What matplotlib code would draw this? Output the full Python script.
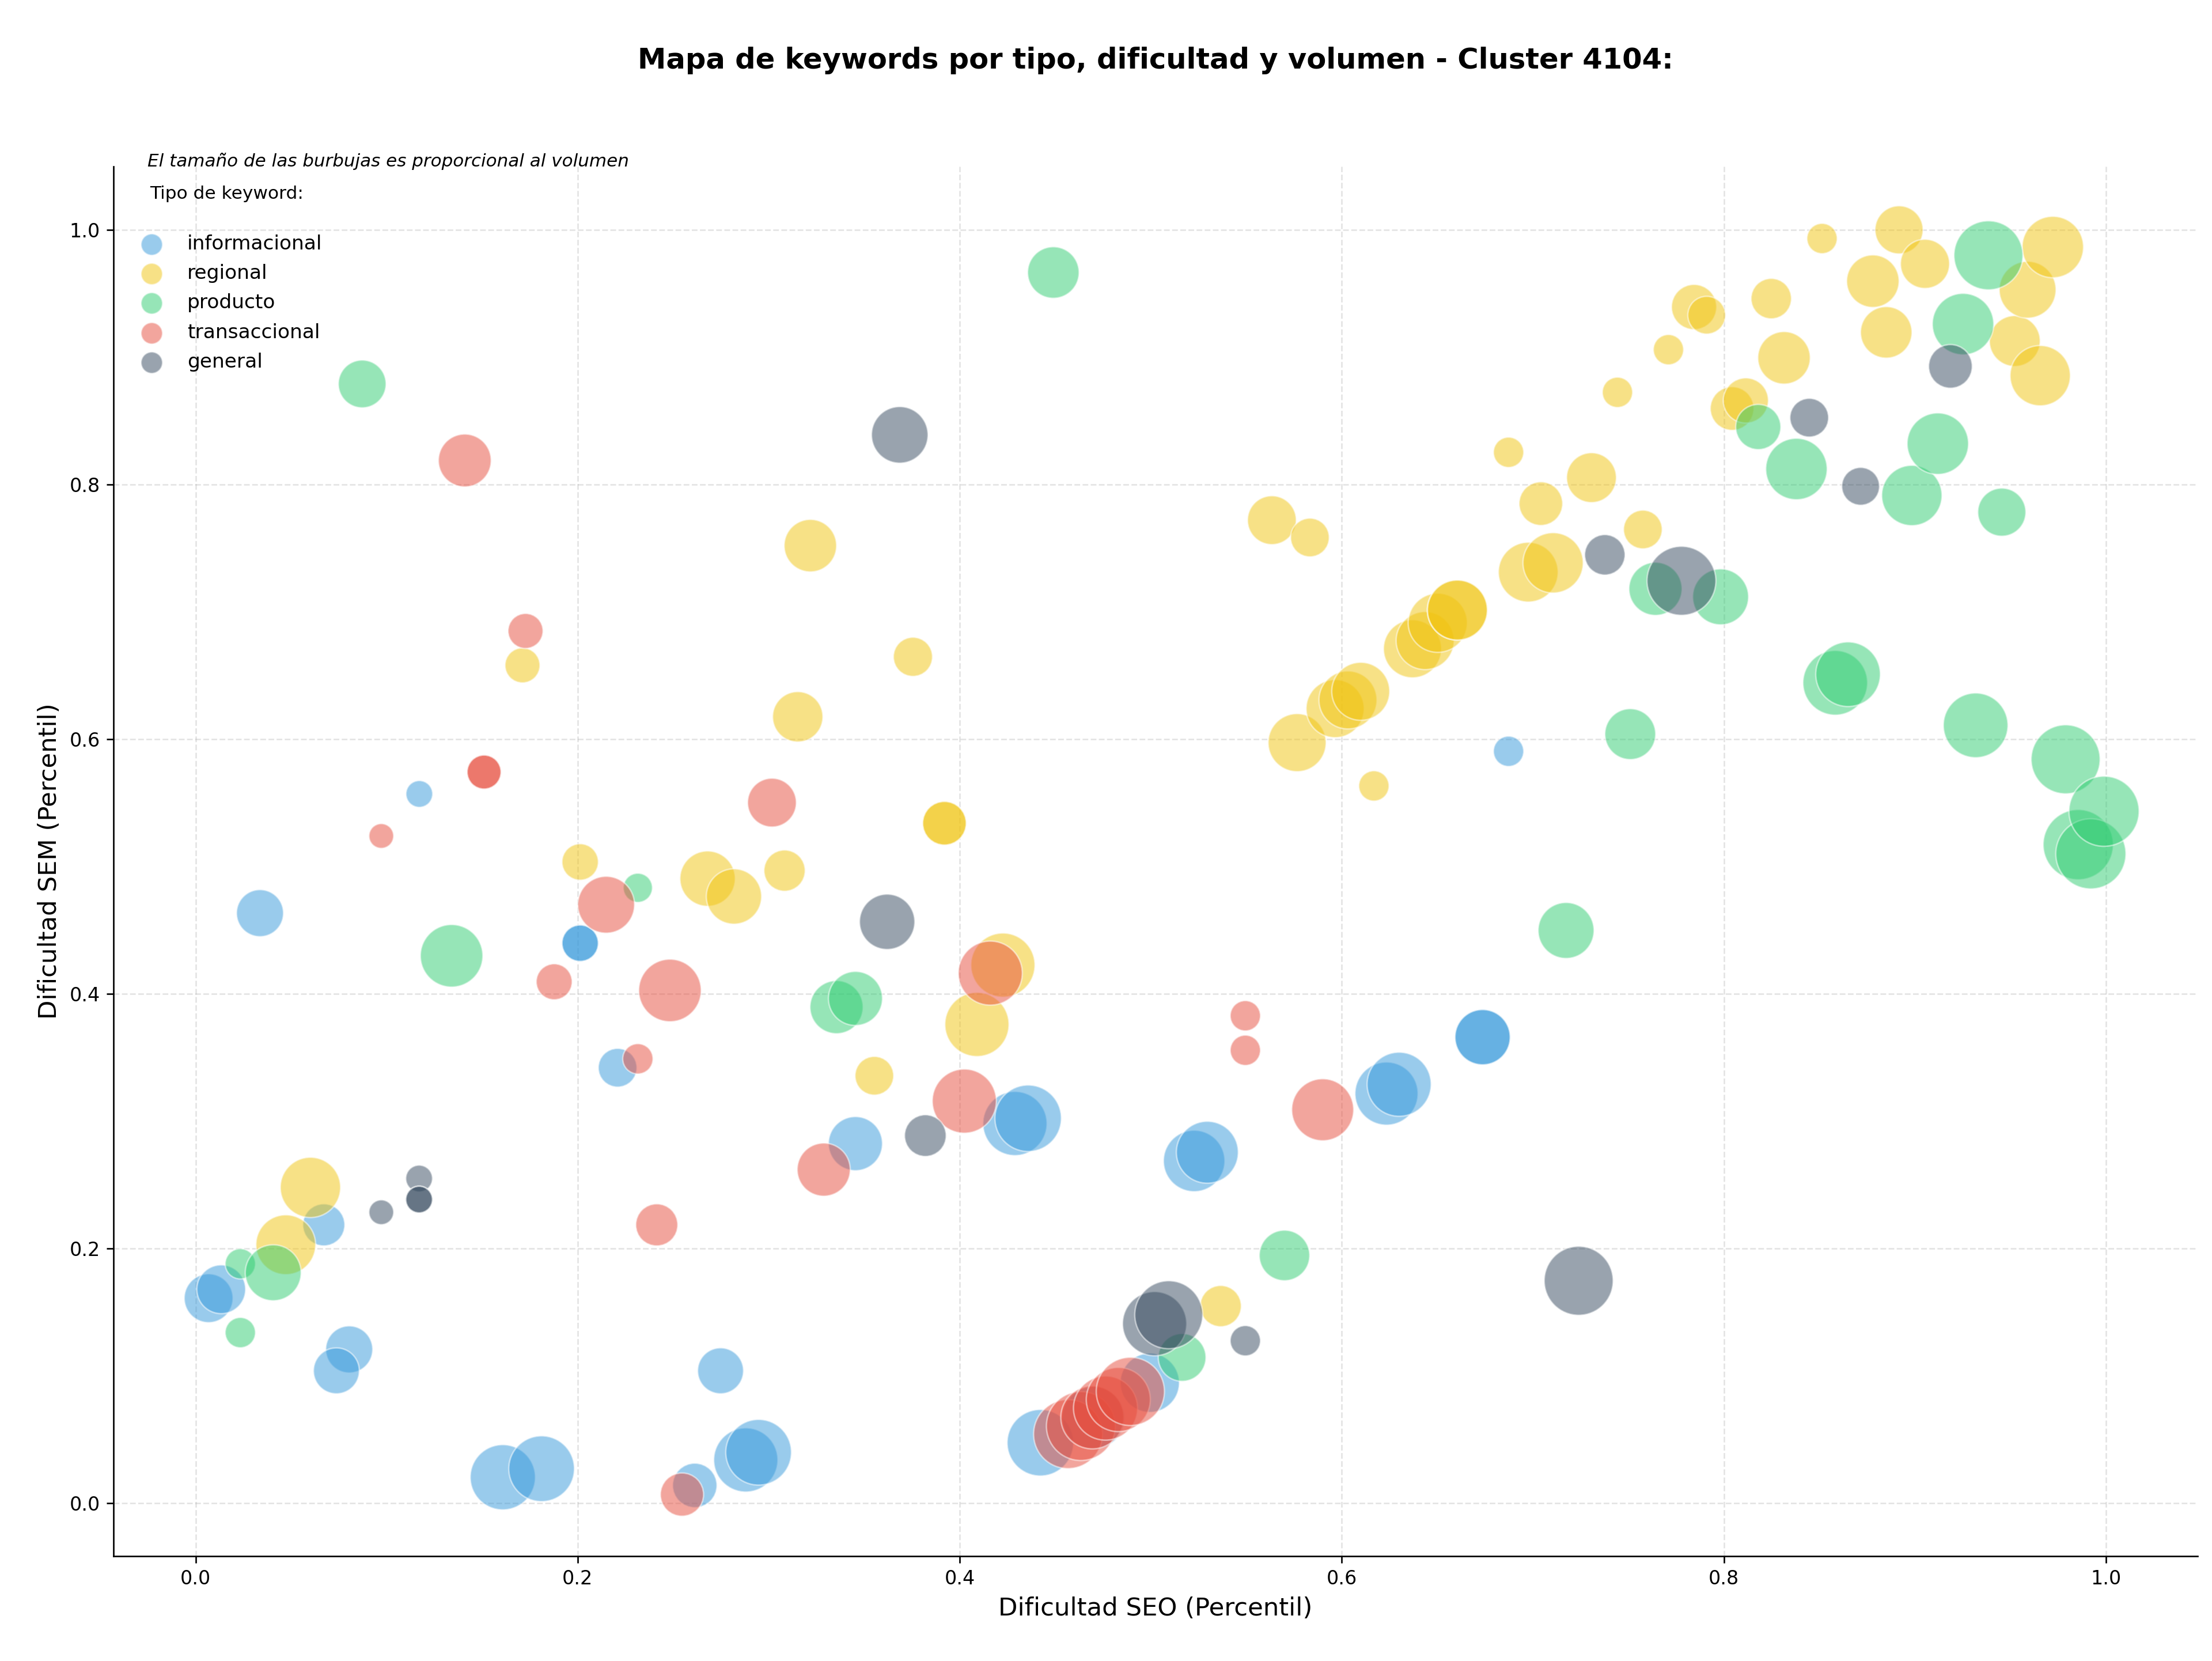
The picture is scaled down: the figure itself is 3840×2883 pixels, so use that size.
import matplotlib
matplotlib.use("Agg")
import matplotlib.pyplot as plt

# Datos del cluster 4104 (dificultad SEO, dificultad SEM, volumen)
tipos = ["informacional", "regional", "producto", "transaccional", "general"]
colores = {
    "informacional": "#3498db",
    "regional": "#f1c40f",
    "producto": "#2ecc71",
    "transaccional": "#e74c3c",
    "general": "#34495e",
}

info_seo = [0.0068, 0.0134, 0.0671, 0.0804, 0.0737, 0.1608, 0.1811, 0.2748, 0.2613, 0.2880,
            0.2947, 0.3454, 0.4289, 0.4358, 0.5227, 0.5296, 0.4422, 0.4700, 0.4995, 0.6234,
            0.6300, 0.6737, 0.6737, 0.6873, 0.1171, 0.0337, 0.2013, 0.2013, 0.2209]
info_sem = [0.161, 0.168, 0.2186, 0.1208, 0.104, 0.0204, 0.0271, 0.104, 0.014, 0.034,
            0.040, 0.2824, 0.2982, 0.3023, 0.2688, 0.2756, 0.0475, 0.067, 0.0946, 0.3217,
            0.329, 0.366, 0.366, 0.5905, 0.557, 0.4634, 0.4398, 0.4398, 0.342]
info_vol = [700, 700, 520, 650, 620, 1250, 1270, 620, 580, 1210,
            1270, 860, 1210, 1300, 1110, 1130, 1300, 1150, 1030, 1170,
            1210, 900, 900, 270, 210, 650, 390, 390, 440]

reg_seo = [0.0472, 0.0601, 0.1711, 0.2013, 0.2680, 0.2818, 0.3083, 0.3152, 0.3218, 0.3755,
           0.3920, 0.3920, 0.3553, 0.4226, 0.4090, 0.5366, 0.5634, 0.5833, 0.5766, 0.6168,
           0.5965, 0.6032, 0.6099, 0.6370, 0.6436, 0.6502, 0.6605, 0.6605, 0.6976, 0.7106,
           0.6873, 0.7042, 0.7307, 0.7576, 0.7443, 0.7710, 0.7844, 0.7910, 0.8043, 0.8115,
           0.8248, 0.8315, 0.8514, 0.8780, 0.8850, 0.8917, 0.9053, 0.9523, 0.9590, 0.9656,
           0.9722]
reg_sem = [0.203, 0.248, 0.658, 0.5036, 0.4905, 0.4765, 0.4968, 0.6176, 0.752, 0.6647,
           0.534, 0.534, 0.3357, 0.4226, 0.376, 0.1548, 0.772, 0.7584, 0.5973, 0.5633,
           0.624, 0.6308, 0.6376, 0.671, 0.6774, 0.6914, 0.7014, 0.7014, 0.7312, 0.7385,
           0.8253, 0.785, 0.8054, 0.7647, 0.8724, 0.9059, 0.9394, 0.933, 0.8597, 0.866,
           0.946, 0.8995, 0.9932, 0.9597, 0.9195, 1.0, 0.9733, 0.9127, 0.953, 0.8855,
           0.9865]
reg_vol = [1050, 1070, 360, 390, 900, 900, 500, 745, 810, 450,
           560, 560, 440, 1210, 1210, 500, 700, 440, 990, 270,
           990, 990, 990, 990, 990, 1030, 1060, 1060, 1050, 1070,
           270, 560, 730, 440, 270, 270, 600, 420, 560, 600,
           480, 810, 270, 810, 780, 680, 710, 760, 950, 1070,
           1110]

prod_seo = [0.0234, 0.0234, 0.0406, 0.0872, 0.1340, 0.2315, 0.3355, 0.3454, 0.4490, 0.5164,
            0.5700, 0.7174, 0.7510, 0.7642, 0.7983, 0.8180, 0.8380, 0.8583, 0.8650, 0.8984,
            0.9120, 0.9252, 0.9318, 0.9385, 0.9455, 0.9789, 0.9855, 0.9921, 0.9990]
prod_sem = [0.188, 0.134, 0.181, 0.879, 0.4299, 0.4833, 0.3896, 0.3964, 0.9665, 0.1145,
            0.1946, 0.4498, 0.604, 0.7181, 0.7118, 0.8452, 0.8122, 0.6443, 0.651, 0.7914,
            0.8321, 0.926, 0.6109, 0.980, 0.7783, 0.5842, 0.5172, 0.510, 0.5434]
prod_vol = [270, 270, 920, 670, 1150, 250, 830, 860, 780, 670,
            750, 920, 760, 830, 920, 600, 1110, 1230, 1230, 1070,
            1110, 1110, 1230, 1400, 680, 1400, 1450, 1450, 1450]

trans_seo = [0.0972, 0.1409, 0.1510, 0.1510, 0.1727, 0.1877, 0.2149, 0.2315, 0.2414, 0.2483,
             0.2546, 0.3017, 0.3288, 0.4024, 0.4160, 0.4567, 0.4634, 0.4694, 0.4763, 0.4830,
             0.4893, 0.5495, 0.5495, 0.5900]
trans_sem = [0.524, 0.8189, 0.5742, 0.5742, 0.685, 0.4095, 0.470, 0.349, 0.2186, 0.4027,
             0.0068, 0.5502, 0.262, 0.3158, 0.4163, 0.0543, 0.0606, 0.0674, 0.0747, 0.0814,
             0.0878, 0.3828, 0.3557, 0.309]
trans_vol = [180, 820, 340, 340, 360, 380, 950, 270, 520, 1150,
             550, 700, 830, 1210, 1210, 1400, 1400, 1170, 1210, 1210,
             1370, 270, 270, 1130]

gen_seo = [0.0972, 0.1170, 0.1170, 0.1170, 0.3620, 0.3686, 0.3820, 0.5020, 0.5094, 0.5495,
           0.7240, 0.7377, 0.7778, 0.8447, 0.8716, 0.9186]
gen_sem = [0.2285, 0.255, 0.2385, 0.2385, 0.4566, 0.839, 0.2887, 0.141, 0.148, 0.1276,
           0.1747, 0.7448, 0.7244, 0.8525, 0.7986, 0.8928]
gen_vol = [180, 210, 210, 210, 900, 940, 510, 1210, 1360, 270,
           1400, 480, 1400, 440, 420, 560]

datos = {
    "informacional": (info_seo, info_sem, info_vol),
    "regional": (reg_seo, reg_sem, reg_vol),
    "producto": (prod_seo, prod_sem, prod_vol),
    "transaccional": (trans_seo, trans_sem, trans_vol),
    "general": (gen_seo, gen_sem, gen_vol),
}

fig = plt.figure(figsize=(16, 12.0125), dpi=240)
ax = fig.add_subplot(111)
fig.subplots_adjust(left=0.0513, right=0.9935, bottom=0.0631, top=0.8998)

escala = 0.92  # volumen -> area del marcador
for tipo in tipos:
    seo, sem, vol = datos[tipo]
    ax.scatter(seo, sem, s=[v * escala for v in vol], c=colores[tipo], alpha=0.5,
               edgecolors="white", linewidths=0.8, zorder=3)

ax.set_xlim(-0.043, 1.048)
ax.set_ylim(-0.0416, 1.0498)
ax.grid(True, linestyle="--", alpha=0.35)
ax.set_axisbelow(True)
ax.spines["top"].set_visible(False)
ax.spines["right"].set_visible(False)

ax.set_xlabel("Dificultad SEO (Percentil)", fontsize=13)
ax.set_ylabel("Dificultad SEM (Percentil)", fontsize=13)
ax.set_title("Mapa de keywords por tipo, dificultad y volumen - Cluster 4104:",
             fontsize=14.9, fontweight="bold", pad=51)

ax.text(0.0163, 1.0, "El tamaño de las burbujas es proporcional al volumen",
        transform=ax.transAxes, fontsize=9.3, style="italic", va="baseline", ha="left")
ax.text(0.0174, 0.9768, "Tipo de keyword:", transform=ax.transAxes,
        fontsize=9.4, va="baseline", ha="left")

# marcadores del legend
handles = [ax.scatter([], [], s=125, c=colores[t], alpha=0.5, edgecolors="white",
                      linewidths=0.8, label=t) for t in tipos]
ax.legend(handles=handles, loc="upper left", bbox_to_anchor=(0.0088, 0.951),
          frameon=False, fontsize=10.3, borderaxespad=0, borderpad=0,
          labelspacing=0.53, handletextpad=0.8)

fig.savefig("out.png", dpi=240)
